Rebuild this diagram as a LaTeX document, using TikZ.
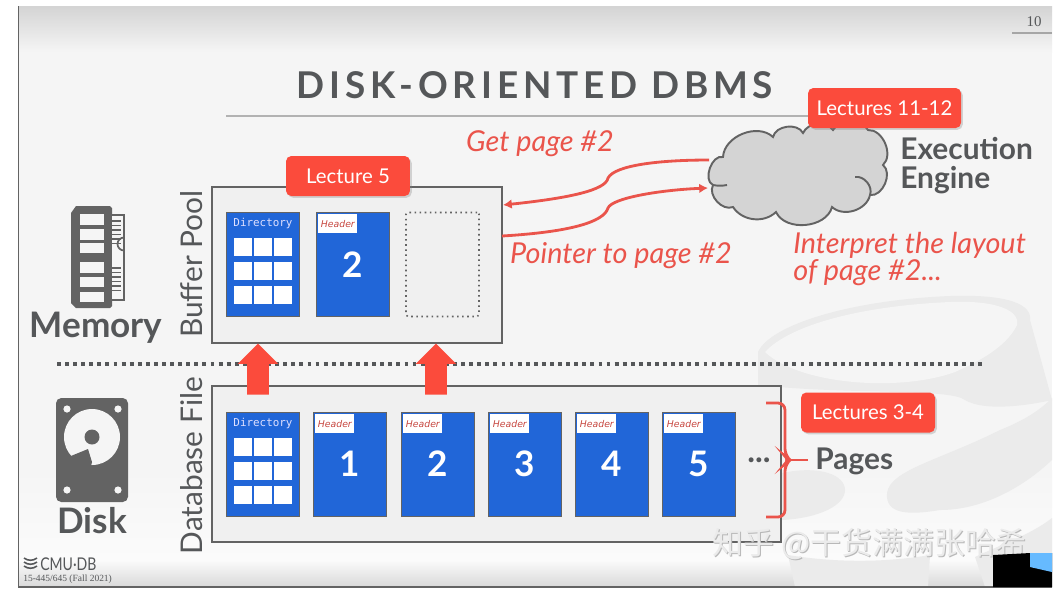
\documentclass[tikz,border=0pt]{standalone}
\usepackage{fontspec}
\setmainfont{Lato}
\newfontfamily\titlefont[LetterSpace=13]{Lato}
\newfontfamily\monofont{DejaVu Sans Mono}
\newfontfamily\obliquefont{DejaVu Sans}
\newfontfamily\seriffont{Liberation Serif}
\newfontfamily\cjkfont{Noto Sans CJK SC}
\usetikzlibrary{arrows.meta,shadows,shapes.arrows}
\newcommand{\fsize}[1]{\fontsize{#1}{#1}\selectfont}
\definecolor{slidegray}{HTML}{F5F5F5}
\definecolor{swoosh}{HTML}{EBEBEB}
\definecolor{framegray}{HTML}{636363}
\definecolor{textgray}{HTML}{555759}
\definecolor{pageblue}{HTML}{2166D8}
\definecolor{callred}{HTML}{FB4B3C}
\definecolor{notered}{HTML}{EA544B}
\begin{document}
\begin{tikzpicture}[x=0.02cm,y=-0.02cm,
  filebox/.style={draw=framegray, line width=1.1pt, fill=black!6, inner sep=0pt, minimum width=#1, minimum height=3.12cm},
  bluepage/.style={draw=framegray, line width=1.1pt, fill=pageblue, inner sep=0pt, minimum width=1.46cm, minimum height=2.08cm},
  emptypage/.style={draw=framegray, line width=0.9pt, dotted, rounded corners=1pt, inner sep=0pt, minimum width=1.46cm, minimum height=2.08cm},
  headertag/.style={fill=white, inner sep=0pt, minimum width=0.78cm, minimum height=0.38cm, text=notered!85!black, font=\obliquefont\itshape\fsize{5.3}},
  dirlabel/.style={text=blue!12!white, inner sep=0pt, font=\monofont\fsize{6.2}},
  cellbox/.style={fill=white, inner sep=0pt, minimum width=0.37cm, minimum height=0.37cm},
  pagenum/.style={text=white, inner sep=0pt, font=\bfseries\fsize{20}},
  callout/.style={fill=callred, rounded corners=3pt, text=white, inner sep=0pt, minimum height=0.8cm, font=\fsize{11.6},
    drop shadow={opacity=0.3,shadow xshift=1pt,shadow yshift=-1pt}},
  uparrow/.style={single arrow, fill=callred, inner sep=0pt, inner ysep=0.21cm, rotate=90, minimum height=1.02cm, single arrow head extend=0.19cm, single arrow head indent=0pt},
  sidelabel/.style={text=textgray, inner sep=0pt, rotate=90, font=\fsize{17}},
  iconlabel/.style={text=textgray, inner sep=0pt, font=\bfseries\fsize{20}},
  grouplabel/.style={text=textgray, inner sep=0pt, font=\bfseries\fsize{17}},
  notelabel/.style={text=notered, inner sep=0pt, font=\itshape\fsize{16.4}},
  redline/.style={draw=notered, line width=1.6pt},
  redarrow/.style={redline, -{Latex[length=5pt,width=5.5pt]}}
]
\useasboundingbox (0,0) rectangle (1060,610);
\fill[white] (0,0) rectangle (1060,610);

% slide background with shaded top and bottom
\fill[slidegray] (18,6) rectangle (1052,587);
\shade[top color=black!17, bottom color=slidegray] (18,6) rectangle (1052,52);
\shade[top color=slidegray, bottom color=white!60!slidegray] (18,470) rectangle (1052,560);
\shade[top color=white!60!slidegray, bottom color=black!15] (18,560) rectangle (1052,587);

% pale cylinder behind the lower right corner
\fill[swoosh] (758,352) .. controls (770,325) and (850,300) .. (950,296) .. controls (1010,294) and (1032,305) .. (1030,320) -- (1052,400) .. controls (1030,405) and (985,412) .. (965,400) .. controls (950,388) and (850,395) .. (758,385) -- cycle;
\fill[slidegray] (765,352) .. controls (790,325) and (860,306) .. (950,302) .. controls (1000,300) and (1020,312) .. (1017,325) .. controls (1005,350) and (970,365) .. (955,372) .. controls (900,392) and (800,385) .. (765,352) -- cycle;
\fill[swoosh] (887,493) .. controls (890,470) and (940,460) .. (1000,430) .. controls (1025,420) and (1040,410) .. (1052,398) -- (1052,460) .. controls (1020,490) and (980,510) .. (940,510) .. controls (910,515) and (885,515) .. (887,493) -- cycle;
\fill[swoosh] (782,473) .. controls (820,465) and (845,475) .. (845,490) .. controls (845,505) and (820,518) .. (782,520) -- cycle;
\fill[swoosh] (788,555) .. controls (850,565) and (900,560) .. (930,555) -- (928,587) -- (795,587) -- cycle;
\fill[swoosh] (975,557) .. controls (1000,545) and (1030,535) .. (1052,518) -- (1052,587) -- (985,587) -- cycle;
\draw[framegray, line width=0.8pt] (18.5,6) -- (18.5,587) -- (1052,587);

% slide header
\node[text=textgray, inner sep=0pt, font=\seriffont\fsize{8.5}] (slidenum) at (1034,22) {10};
\draw[black!35, line width=0.6pt] (1012,33) -- (1052,33);
\node[text=textgray, inner sep=0pt, font=\titlefont\bfseries\fsize{21}] (title) at (535,85) {DISK-ORIENTED DBMS};
\draw[black!30, line width=0.9pt] (226,116) -- (845,116);

% buffer pool
\node[filebox=5.8cm] (pool) at (357,265) {};
\node[sidelabel] (poollabel) at (192,264) {Buffer Pool};
\node[bluepage] (pooldir) at (263,264.5) {};
\node[bluepage] (poolpage) at (353,264.5) {};
\node[emptypage] (poolfree) at (442.5,264.5) {};
\node[headertag, anchor=north west] (poolhead) at (318,214) {Header};
\node[pagenum] (poolnum) at (353,265) {2};
\node[dirlabel] (pooldirlabel) at (263,223) {Directory};
\foreach \row/\y in {0/247,1/271,2/295}
  \foreach \col/\x in {0/243,1/263,2/283}
    \node[cellbox] (poolcell\row\col) at (\x,\y) {};
\node[callout, minimum width=2.48cm] (lecturepool) at (348,176) {Lecture 5};

% memory icon
\fill[framegray] (71,213) -- (76,206) -- (110,206) -- (112,208) -- (112,306) -- (110,308) -- (76,308) -- (71,303) -- cycle;
\foreach \y/\h in {214/11,229/11,243/10,262/11,277/10,292/10}
  \fill[slidegray] (80,\y) rectangle (104,\y+\h);
\draw[framegray, line width=1pt, fill=slidegray] (112,215) -- (124,215) -- (124,250.5) arc (90:270:6.5) -- (124,300) -- (112,300);
\foreach \y in {221,225.5,230,234.5,239,243.5,268,272.5,277,281.5,286,290.5}
  \draw[framegray, line width=0.9pt] (112,\y) -- (120.5,\y);
\node[iconlabel] (memory) at (96,328) {Memory};

% separator and page transfers
\draw[textgray, line width=2.2pt, dash pattern=on 2.2pt off 2.4pt] (57,364) -- (982,364);

% database file
\node[filebox=11.38cm] (dbfile) at (496.5,464) {};
\node[sidelabel] (dblabel) at (192,465.5) {Database File};
\node[bluepage] (filedir) at (263,464.5) {};
\foreach \n/\x in {1/350,2/438,3/525,4/612,5/699} {
  \node[bluepage] (filepage\n) at (\x,464.5) {};
  \node[headertag, anchor=north west] (filehead\n) at (\x-35,414) {Header};
  \node[pagenum] (filenum\n) at (\x,464) {\n};
}
\node[dirlabel] (filedirlabel) at (263,423) {Directory};
\foreach \row/\y in {0/447,1/471,2/495}
  \foreach \col/\x in {0/243,1/263,2/283}
    \node[cellbox] (filecell\row\col) at (\x,\y) {};
\node[text=textgray, inner sep=0pt, font=\bfseries\fsize{18.5}] (morepages) at (759,460) {...};
\node[uparrow] (upone) at (258,374.5) {};
\node[uparrow] (uptwo) at (436,374.5) {};

% disk icon
\fill[framegray, rounded corners=3pt] (56,398) rectangle (128,502);
\fill[slidegray] (92,437) circle (28);
\fill[framegray] (92,437) circle (7.5);
\fill[framegray] (66,458) -- (88,449) -- (92,462) -- (90,470) -- (80,468) -- cycle;
\foreach \x/\y in {67/409,118/409,67/490,118/490}
  \fill[slidegray] (\x,\y) circle (3.6);
\node[iconlabel] (disk) at (92,521) {Disk};

% cloud for the execution engine
\draw[framegray, line width=1.1pt, fill=black!17]
  (723,157) to[bend left=65] (773,137) to[bend left=70] (803,133) to[bend left=60] (833,130)
  to[bend left=60] (868,130) to[bend left=70] (883,165) to[bend left=75] (870,195)
  to[bend left=60] (832,207) to[bend left=70] (776,212) to[bend left=50] (733,207)
  to[bend left=70] (713,185) to[bend left=85] (723,157) -- cycle;
\draw[framegray, line width=1.1pt] (855,177) to[bend left=60] (870,195);
\draw[framegray, line width=1.1pt] (713,185) to[bend right=10] (727,185);
\node[callout, minimum width=3.06cm] (lectureengine) at (884.5,108) {Lectures 11-12};
\node[grouplabel, anchor=west, align=left] (engine) at (900,165.5) {Execution\\[-0.6pt]Engine};

% requests between engine and pool
\coordinate (enginetop) at (709,160);
\coordinate (enginelow) at (708,188);
\coordinate (pooltop) at (503,205);
\coordinate (poollow) at (502,236);
\draw[redarrow] (enginetop) .. controls (660,160) and (615,165) .. (608,178) .. controls (606,190) and (570,198) .. (pooltop);
\draw[redarrow] (poollow) .. controls (570,232) and (604,222) .. (608,208) .. controls (612,198) and (660,190) .. (enginelow);
\node[notelabel] (getpage) at (540,144) {Get page \#2};
\node[notelabel] (pointer) at (621,256) {Pointer to page \#2};
\node[notelabel, anchor=west, align=left] (interpret) at (793,259) {Interpret the layout\\[-1.4pt]of page \#2...};

% pages brace
\coordinate (bracetop) at (766,403);
\coordinate (bracelow) at (766,517);
\coordinate (bracemid) at (790,460);
\node[grouplabel, anchor=west] (pages) at (815,461) {Pages};
\draw[redline, rounded corners=4pt] (bracetop) -- (785,403) -- (785,456) -- (bracemid) -- (785,464) -- (785,517) -- (bracelow);
\draw[redline] (bracemid) -- (808,460);
\node[callout, minimum width=2.68cm] (lecturefile) at (868,412.5) {Lectures 3-4};

% course footer
\foreach \y in {558,562,566}
  \draw[textgray, line width=0.9pt] (24,\y) .. controls (28,\y+3) and (33,\y+3) .. (37,\y);
\node[text=textgray, inner sep=0pt, anchor=west, xscale=0.8, font=\fsize{10}] (cmudb) at (40,564) {CMU·DB};
\node[text=textgray, inner sep=0pt, anchor=west, font=\seriffont\fsize{5.4}] (course) at (23,579) {15-445/645 (Fall 2021)};

% watermark and corner inset
\node[text=black!28, inner sep=0pt, anchor=west, font=\cjkfont\fsize{17.6}] (markshadow) at (713,545.5) {知乎 @干货满满张哈希};
\node[text=white!92!black, inner sep=0pt, anchor=west, font=\cjkfont\fsize{17.6}] (mark) at (712,544.5) {知乎 @干货满满张哈希};
\fill[black] (993,555) -- (1030,553) -- (1052,553) -- (1052,587) -- (993,587) -- cycle;
\fill[blue!45!cyan!60!white] (1030,553) -- (1052,553) -- (1052,572) -- (1030,567) -- cycle;
\end{tikzpicture}
\end{document}
